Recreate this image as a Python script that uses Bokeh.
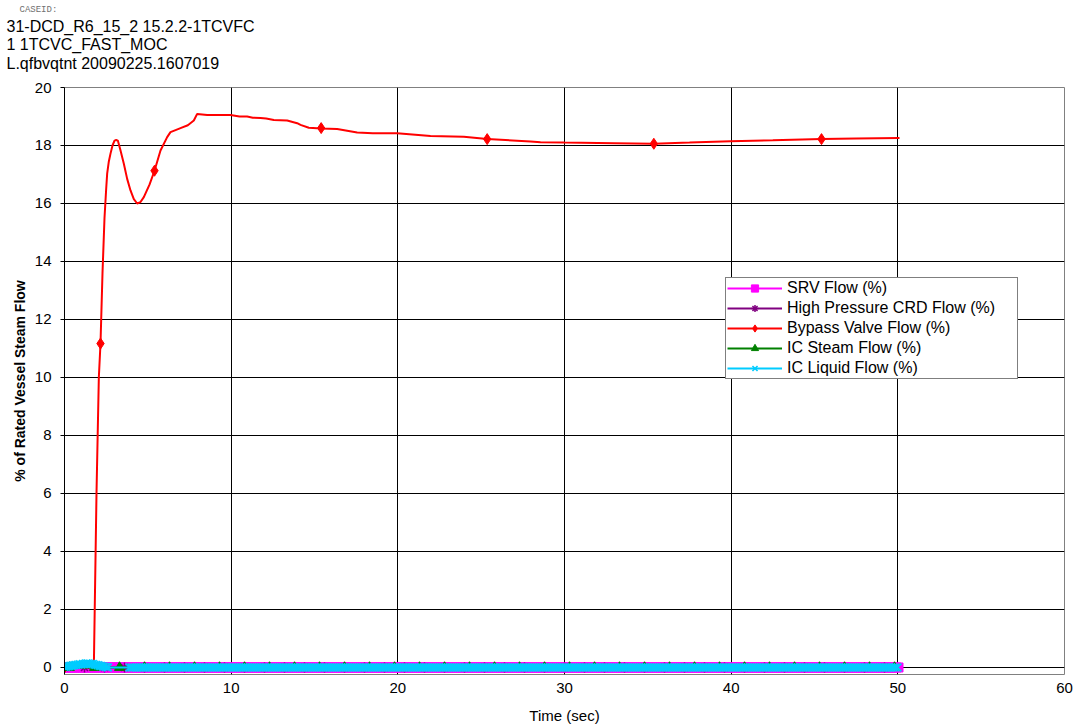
import numpy as np
from bokeh.plotting import figure
from bokeh.models import Title, Legend, LegendItem, FixedTicker, Range1d
from bokeh.embed import file_html
from bokeh.resources import INLINE

# ---------------- data ----------------
header_lines = ["31-DCD_R6_15_2 15.2.2-1TCVFC", "1 1TCVC_FAST_MOC", "L.qfbvqtnt 20090225.1607019"]
case_label = "CASEID:"

series_names = ["SRV Flow (%)", "High Pressure CRD Flow (%)", "Bypass Valve Flow (%)",
                "IC Steam Flow (%)", "IC Liquid Flow (%)"]

x_ticks = [0, 10, 20, 30, 40, 50, 60]
y_ticks = [0, 2, 4, 6, 8, 10, 12, 14, 16, 18, 20]

# Bypass valve flow (%) vs time (s)
bypass_t = [0.0, 1.0, 1.76, 1.92, 2.06, 2.16, 2.28, 2.4, 2.5, 2.56, 2.66, 2.76, 2.88, 3.0, 3.1,
            3.2, 3.35, 3.56, 3.76, 3.96, 4.16, 4.36, 4.56, 4.76, 5.1, 5.4, 5.76, 6.16, 6.36, 6.7,
            6.96, 7.4, 7.76, 7.96, 8.56, 9.96, 10.5, 10.96, 11.3, 11.76, 12.1, 12.56, 13.36, 13.96,
            14.16, 14.66, 15.4, 16.36, 17.56, 18.5, 19.96, 21.96, 23.96, 25.36, 27.96, 28.56, 30.0,
            33.0, 35.36, 37.5, 39.96, 42.5, 45.42, 47.5, 50.1]
bypass_v = [0.0, 0.0, 0.0, 6.0, 10.0, 11.17, 13.6, 15.5, 16.5, 17.03, 17.45, 17.72, 18.0, 18.17, 18.19,
            18.17, 17.85, 17.37, 16.85, 16.45, 16.15, 16.0, 16.05, 16.22, 16.65, 17.13, 17.83, 18.29, 18.46, 18.54,
            18.6, 18.7, 18.86, 19.09, 19.05, 19.05, 19.0, 19.0, 18.96, 18.95, 18.93, 18.88, 18.86, 18.77,
            18.71, 18.61, 18.59, 18.57, 18.45, 18.42, 18.42, 18.33, 18.3, 18.22, 18.14, 18.11, 18.1,
            18.08, 18.06, 18.1, 18.15, 18.18, 18.22, 18.24, 18.26]
# marked points of the bypass series
bypass_mark_t = [0.0, 2.16, 5.4, 15.4, 25.36, 35.36, 45.42]
bypass_mark_v = [0.0, 11.17, 17.13, 18.6, 18.22, 18.06, 18.22]

# SRV flow stays at zero for the whole run (densely sampled output)
srv_t = [round(v, 2) for v in np.arange(0.0, 50.05, 0.12)]
srv_v = [0.0] * len(srv_t)
# CRD and IC steam flows: zero, coarser output
crd_t = [round(v, 2) for v in np.arange(0.0, 50.05, 1.2)]
crd_v = [0.0] * len(crd_t)
ic_steam_t = [round(v, 2) for v in np.arange(0.3, 50.05, 1.5)]
ic_steam_v = [0.0] * len(ic_steam_t)

# IC liquid flow: small bump during the first seconds, then zero
ic_liq_early_t = [0.0, 0.1, 0.2, 0.3, 0.4, 0.5, 0.6, 0.7, 0.8, 0.9, 1.0, 1.1, 1.2, 1.3, 1.4,
                  1.5, 1.6, 1.7, 1.8, 1.9, 2.0, 2.1, 2.2, 2.3, 2.4, 2.5, 2.6]
ic_liq_early_v = [0.02, 0.03, 0.04, 0.05, 0.06, 0.07, 0.08, 0.09, 0.1, 0.11, 0.1, 0.12, 0.12, 0.14, 0.14,
                  0.13, 0.12, 0.12, 0.1, 0.09, 0.08, 0.06, 0.05, 0.04, 0.03, 0.02, 0.0]
ic_liq_late_t = [round(v, 2) for v in np.arange(3.9, 50.05, 0.12)]
ic_liq_t = ic_liq_early_t + ic_liq_late_t
ic_liq_v = ic_liq_early_v + [0.0] * len(ic_liq_late_t)

# ---------------- figure ----------------
FONT = "Liberation Sans"

p = figure(frame_width=1000, frame_height=587,
           x_range=Range1d(0, 60), y_range=Range1d(-0.2414, 20),
           output_backend="svg", toolbar_location=None,
           min_border_left=64, min_border_right=15, min_border_bottom=53, min_border_top=87,
           title=case_label)
p.background_fill_color = "white"
p.border_fill_color = "white"
p.outline_line_color = "#808080"

# titles (stacked above the plot; the first added is nearest the plot, p.title is outermost)
p.title.text_font = "Liberation Mono"
p.title.text_font_size = "9px"
p.title.text_font_style = "normal"
p.title.text_color = "#707070"
p.title.align = "left"
p.title.offset = -45
p.title.standoff = 4
# spacer between header block and plot frame
p.add_layout(Title(text=" ", text_font_size="1px", standoff=13), "above")
for txt, so in [(header_lines[2], 0), (header_lines[1], 0), (header_lines[0], -2)]:
    p.add_layout(Title(text=txt, text_font=FONT, text_font_size="16px", text_font_style="normal",
                       text_color="black", align="left", offset=-58, standoff=so), "above")

# axes
for ax in (p.xaxis[0], p.yaxis[0]):
    ax.major_label_text_font = FONT
    ax.major_label_text_font_size = "15px"
    ax.major_label_text_color = "black"
    ax.major_tick_line_color = "black"
    ax.major_tick_in = 0
    ax.minor_tick_line_color = None
    ax.axis_label_text_font = FONT
    ax.axis_label_text_color = "black"
p.xaxis.ticker = FixedTicker(ticks=x_ticks)
p.yaxis.ticker = FixedTicker(ticks=y_ticks)
p.xaxis.axis_line_color = None
p.xaxis.major_tick_out = 0
p.yaxis.axis_line_color = "black"
p.yaxis.major_tick_out = 4
p.xaxis.axis_label = "Time (sec)"
p.xaxis.axis_label_text_font_size = "15px"
p.xaxis.axis_label_text_font_style = "normal"
p.xaxis.major_label_standoff = 8
p.xaxis.axis_label_standoff = 11
p.yaxis.axis_label = "% of Rated Vessel Steam Flow"
p.yaxis.axis_label_text_font_size = "14px"
p.yaxis.axis_label_text_font_style = "bold"
p.yaxis.major_label_standoff = 9
p.yaxis.axis_label_standoff = 4

p.xgrid.grid_line_color = "black"
p.ygrid.grid_line_color = "black"
p.xgrid.grid_line_width = 1
p.ygrid.grid_line_width = 1

# ---------------- series ----------------
items = []

l1 = p.line(srv_t, srv_v, line_color="#FF00FF", line_width=2)
s1 = p.scatter(srv_t, srv_v, marker="square", size=9, fill_color="#FF00FF", line_color="#FF00FF")
items.append(LegendItem(label=series_names[0], renderers=[l1, s1]))

l2 = p.line(crd_t, crd_v, line_color="#800080", line_width=2)
s2 = p.scatter(crd_t, crd_v, marker="asterisk", size=10, line_color="#800080", line_width=1.5)
items.append(LegendItem(label=series_names[1], renderers=[l2, s2]))

l3 = p.line(bypass_t, bypass_v, line_color="#FF0000", line_width=2)
s3 = p.scatter(bypass_mark_t, bypass_mark_v, marker="diamond", size=11,
               fill_color="#FF0000", line_color="#FF0000")
items.append(LegendItem(label=series_names[2], renderers=[l3, s3]))

l4 = p.line(ic_steam_t, ic_steam_v, line_color="#008000", line_width=2)
s4 = p.scatter(ic_steam_t, ic_steam_v, marker="triangle", size=10, fill_color="#008000", line_color="#008000")
items.append(LegendItem(label=series_names[3], renderers=[l4, s4]))

l5 = p.line(ic_liq_t, ic_liq_v, line_color="#00CCFF", line_width=2)
s5 = p.scatter(ic_liq_t, ic_liq_v, marker="x", size=11, line_color="#00CCFF", line_width=1.6)
items.append(LegendItem(label=series_names[4], renderers=[l5, s5]))

legend = Legend(items=items, location=(661, 295), orientation="vertical",
                label_text_font=FONT, label_text_font_size="16px", label_text_color="black",
                glyph_width=55, glyph_height=18, label_height=18, label_width=229,
                label_standoff=5, spacing=2, padding=1, margin=0,
                border_line_color="black", border_line_width=1,
                background_fill_color="white", background_fill_alpha=1.0)
p.add_layout(legend, "center")

open("out.html", "w").write(file_html(p, INLINE))
